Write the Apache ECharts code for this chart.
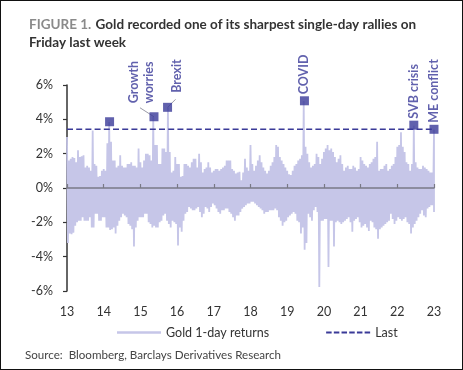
<!DOCTYPE html>
<html><head><meta charset="utf-8">
<script src="https://cdn.jsdelivr.net/npm/echarts@6/dist/echarts.min.js"></script>
<style>
html,body{margin:0;padding:0;background:#fff;}
#wrap{width:463px;height:370px;box-sizing:border-box;border:1.5px solid #111;position:relative;overflow:hidden;}
#c{position:absolute;left:-1.5px;top:-1.5px;width:463px;height:370px;}
</style></head>
<body><div id="wrap"><div id="c"></div></div>
<script>
// sampling grid for the daily-return envelope (years since 2000)
const gridStart = 13, gridStep = 0.05;
// upper envelope of daily returns (%), 13.00 .. 23.00
const returnsUpper = [
2.97,1.6,1.7,1.8,1.75,1.5,2.2,1.8,1.85,1.9,1.2,1.3,1.2,1.0,3.35,1.4,1.3,0.65,0.7,1.0,
1.1,1.0,2.6,3.85,2.7,1.6,1.6,1.2,1.3,1.9,1.3,1.2,1.2,1.4,1.4,1.5,1.3,1.3,1.2,2.3,
1.5,1.2,1.6,2.0,2.0,1.9,1.6,4.15,2.5,2.5,1.4,1.4,2.3,2.3,2.1,4.7,2.1,0.9,1.0,1.8,
1.4,1.4,0.65,0.7,1.4,1.4,1.3,1.2,1.5,1.7,1.7,1.2,2.0,1.5,0.9,1.1,1.2,1.5,1.2,0.9,
1.0,1.1,1.1,1.0,1.1,1.2,1.3,1.6,1.6,1.6,1.1,1.0,0.85,0.9,0.95,0.45,0.9,1.7,1.2,1.0,
2.5,1.4,1.0,1.3,1.6,1.9,1.5,1.2,1.0,0.85,1.0,1.3,1.5,1.8,2.5,2.4,1.8,1.6,1.4,1.2,
1.0,0.8,0.75,1.0,1.3,1.4,1.6,1.7,1.9,5.07,2.4,2.0,1.5,1.2,1.3,1.4,2.0,1.8,1.4,1.7,
2.1,2.3,2.5,2.2,2.3,2.1,1.8,1.5,1.7,1.9,1.4,1.0,1.2,1.3,1.1,1.1,1.3,1.2,1.0,1.1,
1.8,1.6,1.4,1.3,1.2,1.4,1.5,1.7,1.8,2.7,1.0,1.1,1.1,1.3,1.4,1.0,1.1,1.3,1.4,1.8,
2.4,2.5,3.25,2.4,2.1,1.5,1.4,1.0,1.4,3.63,1.5,1.2,1.1,1.1,1.3,1.2,1.1,1.0,0.9,0.9,
3.4];
// lower envelope of daily returns (%), 13.00 .. 23.00
const returnsLower = [
-3.2,-2.65,-2.7,-2.6,-2.2,-2.0,-1.9,-1.9,-1.7,-1.9,-1.9,-1.9,-1.7,-2.3,-2.3,-1.5,-1.5,-1.9,-1.9,-1.7,
-1.7,-2.3,-2.3,-2.45,-2.4,-2.3,-2.65,-2.2,-1.9,-1.7,-1.5,-1.6,-1.7,-2.1,-2.2,-2.4,-3.4,-2.3,-1.9,-1.7,
-1.7,-1.7,-1.5,-1.5,-2.0,-2.1,-2.3,-2.2,-2.3,-2.3,-2.0,-1.9,-1.6,-1.5,-1.9,-2.1,-2.3,-1.9,-2.0,-2.1,
-3.35,-2.3,-2.55,-1.9,-1.5,-1.4,-1.1,-1.2,-1.3,-1.3,-1.2,-1.1,-1.4,-1.7,-1.5,-1.1,-1.2,-1.4,-1.1,-0.9,
-1.0,-1.2,-1.4,-1.5,-1.3,-1.3,-1.2,-1.2,-1.4,-1.5,-1.7,-1.9,-1.6,-1.6,-1.4,-1.2,-1.1,-1.0,-0.9,-0.9,
-0.8,-0.8,-0.9,-1.0,-1.1,-1.2,-1.3,-1.5,-1.4,-1.4,-1.3,-1.3,-1.3,-1.2,-1.3,-1.7,-1.9,-2.2,-2.0,-1.9,
-1.7,-1.6,-1.5,-1.4,-1.5,-1.9,-2.0,-2.65,-2.3,-3.6,-3.2,-1.5,-1.7,-1.9,-1.3,-1.1,-1.4,-5.77,-1.9,-1.9,
-1.8,-1.8,-4.6,-1.9,-1.9,-3.4,-2.0,-1.9,-2.0,-2.1,-2.0,-1.9,-1.8,-1.7,-2.0,-2.55,-1.9,-1.8,-1.7,-2.0,
-2.3,-2.2,-2.1,-2.3,-2.5,-1.9,-2.0,-2.3,-2.4,-2.95,-2.4,-2.3,-2.2,-2.1,-2.0,-1.9,-1.5,-1.8,-2.1,-1.9,
-1.7,-1.8,-1.9,-1.8,-1.7,-2.0,-2.1,-2.65,-2.3,-2.1,-1.9,-1.7,-1.5,-1.3,-1.6,-1.7,-1.2,-1.1,-1.0,-1.0,
-1.4];
const lastValue = 3.42;
const eventNames  = ['', 'Growth\nworries', 'Brexit', 'COVID', 'SVB crisis', 'ME conflict'];
const eventYears  = [14.16, 15.37, 15.74, 19.47, 22.45, 23.0];
const eventValues = [3.86, 4.15, 4.7, 5.08, 3.66, 3.42];
const xTicks = [13,14,15,16,17,18,19,20,21,22,23];
const yTicks = [-6,-4,-2,0,2,4,6];

const LAV = '#c6c6e8', NAVY = '#3a3a98';
const FONT = 'Lato, "Noto Sans", sans-serif';

const zig = [];
for (let i = 0; i < returnsUpper.length; i++) {
  const x = gridStart + i * gridStep;
  zig.push([x, returnsUpper[i]]);
  zig.push([Math.min(x + gridStep / 2, xTicks[xTicks.length-1]), returnsLower[i]]);
}
const events = eventNames.map((n, i) => ({ name: n, value: [eventYears[i], eventValues[i]] }));
// screen offsets [right, down] for the moved labels
const labelOffsets = { 'Growth\nworries': [-13, -7], 'Brexit': [9, -8] };
// leader lines, in screen px relative to the marker: [x1, y1, x2, y2]
const leaders = { 'Growth\nworries': [-14, -9, 0, 0], 'Brexit': [0, 0, 8, -8] };

const chart = echarts.init(document.getElementById('c'), null, { renderer: 'canvas' });
const option = {
  animation: false,
  textStyle: { fontFamily: FONT },
  title: {
    left: 24, top: 11,
    text: '{a|FIGURE 1.} {b|Gold recorded one of its sharpest single-day rallies on}\n{b|Friday last week}',
    textStyle: {
      rich: {
        a: { color: '#8a8a8a', fontWeight: 'bold', fontSize: 13.5, fontFamily: FONT, lineHeight: 18 },
        b: { color: '#333333', fontWeight: 'bold', fontSize: 13.5, fontFamily: FONT, lineHeight: 18 }
      }
    }
  },
  grid: { left: 67, right: 29, top: 85, bottom: 79, containLabel: false },
  legend: {
    top: 321, left: 112,
    itemWidth: 44, itemHeight: 12, itemGap: 57,
    textStyle: { fontSize: 12.5, color: '#333', fontFamily: FONT },
    data: [
      { name: 'Gold 1-day returns', icon: 'path://M0,0H44V2.5H0Z', itemStyle: { color: LAV } },
      { name: 'Last', icon: 'path://M0,0H5V2H0Z M7,0H12V2H7Z M14,0H19V2H14Z M21,0H26V2H21Z M28,0H33V2H28Z M35,0H40V2H35Z', itemStyle: { color: NAVY } }
    ]
  },
  graphic: [{
    type: 'text', left: 25, top: 349,
    style: { text: 'Source:  Bloomberg, Barclays Derivatives Research', fontSize: 11.6, fill: '#444', fontFamily: FONT }
  }],
  xAxis: [{
    type: 'value', min: xTicks[0], max: xTicks[xTicks.length-1], interval: 1,
    axisLine: { show: false, onZero: false }, axisTick: { show: false }, splitLine: { show: false },
    axisLabel: { margin: 14, fontSize: 12.5, color: '#333', fontFamily: FONT }
  }, {
    type: 'value', min: xTicks[0], max: xTicks[xTicks.length-1], interval: 1, z: 5,
    axisLine: { show: true, onZero: true, lineStyle: { color: '#7a7a86', width: 1.5 } },
    axisTick: { show: true, length: 4, lineStyle: { color: '#7a7a86', width: 1.2 } },
    axisLabel: { show: false }, splitLine: { show: false }
  }],
  yAxis: {
    type: 'value', min: yTicks[0], max: yTicks[yTicks.length-1], interval: 2,
    axisLine: { show: true, onZero: false, lineStyle: { color: '#333', width: 1.5 } },
    axisTick: { show: true, length: 4, lineStyle: { color: '#333', width: 1.2 } },
    splitLine: { show: false },
    axisLabel: { formatter: '{value}%', margin: 14, fontSize: 12.5, color: '#333', fontFamily: FONT }
  },
  series: [{
    name: 'Gold 1-day returns', type: 'line', data: zig, symbol: 'none', showSymbol: false,
    lineStyle: { color: LAV, width: 1.8 }, itemStyle: { color: LAV }, z: 2
  }, {
    name: 'Last', type: 'line', data: [[xTicks[0], lastValue], [xTicks[xTicks.length-1], lastValue]],
    symbol: 'none', showSymbol: false, lineStyle: { color: NAVY, width: 1.6, type: [6, 3.2] }, itemStyle: { color: NAVY }, z: 6
  }, {
    name: 'events', type: 'scatter', data: events, symbol: 'rect', symbolSize: 9,
    itemStyle: { color: NAVY }, z: 8,
    label: {
      show: true, position: 'top', distance: 2, rotate: 90, align: 'left', verticalAlign: 'middle',
      formatter: p => p.name, color: NAVY, fontWeight: 'bold', fontSize: 12.5, fontFamily: FONT, lineHeight: 15
    },
    labelLayout: p => { const o = labelOffsets[events[p.dataIndex].name]; return o ? { dx: -o[1], dy: o[0] } : {}; }
  }]
};
chart.setOption(option);
// leader lines attached to the event markers (positions from the data through the axes)
const extra = [];
events.forEach(ev => {
  const l = leaders[ev.name];
  if (!l) return;
  const p = chart.convertToPixel({ gridIndex: 0 }, ev.value);
  extra.push({ type: 'line', z: 7, shape: { x1: p[0] + l[0], y1: p[1] + l[1], x2: p[0] + l[2], y2: p[1] + l[3] },
    style: { stroke: '#9a9aa6', lineWidth: 1 } });
});
chart.setOption({ graphic: option.graphic.concat(extra) });
</script></body></html>
